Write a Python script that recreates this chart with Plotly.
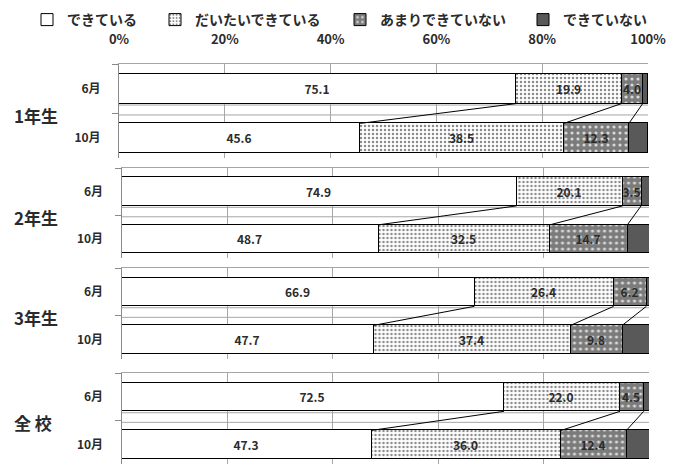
import plotly.graph_objects as go

# ---------------- data ----------------
groups = ["1年生", "2年生", "3年生", "全 校"]
months = ["6月", "10月"]
series_names = ["できている", "だいたいできている", "あまりできていない", "できていない"]
# each entry: [6月, 10月]
dekiteiru = [[75.1, 45.6], [74.9, 48.7], [66.9, 47.7], [72.5, 47.3]]
daitai = [[19.9, 38.5], [20.1, 32.5], [26.4, 37.4], [22.0, 36.0]]
amari = [[4.0, 12.3], [3.5, 14.7], [6.2, 9.8], [4.5, 12.4]]
dekinai = [[1.0, 3.6], [1.5, 4.1], [0.5, 5.1], [1.0, 4.3]]
x_ticks = [0, 20, 40, 60, 80, 100]
series_values = [dekiteiru, daitai, amari, dekinai]
show_label = [True, True, True, False]

# ---------------- style ----------------
W, H = 681, 464
FONT = "Noto Sans CJK JP"
TXT = "#2b2b2b"
GRID = "#a6a6a6"
AXIS = "#8a8a8a"
BAR_W = 0.6
YPOS = [1, 0]  # 6月 on top, 10月 below

patterns = [
    dict(color="#ffffff", pattern=None),
    dict(color="#ffffff", pattern=dict(shape=".", fgcolor="#8c8c8c", bgcolor="#ffffff",
                                       size=4, solidity=0.3, fillmode="replace")),
    dict(color="#7b7b7b", pattern=dict(shape=".", fgcolor="#d8d8d8", bgcolor="#7b7b7b",
                                       size=6, solidity=0.22, fillmode="replace")),
    dict(color="#595959", pattern=None),
]

# panel pixel extents (top, bottom) and x extents (left, right)
panel_px = [(64, 158), (168, 258), (268, 359), (373, 464)]
panel_x = [(119, 648), (121.5, 649), (121.5, 649), (121.5, 649)]

fig = go.Figure()

for p in range(4):
    xa = "x" if p == 0 else f"x{p+1}"
    ya = "y" if p == 0 else f"y{p+1}"
    for s in range(4):
        vals = [series_values[s][p][0], series_values[s][p][1]]
        marker = dict(color=patterns[s]["color"], line=dict(color="#000000", width=1))
        if patterns[s]["pattern"] is not None:
            marker["pattern"] = patterns[s]["pattern"]
        fig.add_trace(go.Bar(
            x=vals, y=YPOS, orientation="h", width=BAR_W,
            name=series_names[s], marker=marker,
            xaxis=xa, yaxis=ya,
            text=[f"{v:.1f}" for v in vals] if show_label[s] else None,
            textposition="inside" if show_label[s] else "none",
            insidetextanchor="middle", textangle=0, constraintext="none",
            textfont=dict(family=FONT, size=12, color=TXT, weight="bold"),
            showlegend=(p == 0),
            legend="legend" if s == 0 else f"legend{s+1}",
            hoverinfo="skip",
        ))
    # series lines between segment boundaries
    cum6 = 0.0
    cum10 = 0.0
    for s in range(3):
        cum6 += series_values[s][p][0]
        cum10 += series_values[s][p][1]
        fig.add_trace(go.Scatter(
            x=[cum6, cum10], y=[YPOS[0] - BAR_W / 2, YPOS[1] + BAR_W / 2],
            mode="lines", line=dict(color="#000000", width=1),
            xaxis=xa, yaxis=ya, showlegend=False, hoverinfo="skip",
        ))

layout = dict(
    width=W, height=H, margin=dict(l=0, r=0, t=0, b=0, autoexpand=False),
    paper_bgcolor="white", plot_bgcolor="white",
    barmode="stack", bargap=0,
    uniformtext=dict(mode="show", minsize=12),
    font=dict(family=FONT, color=TXT),
    showlegend=True,
)

shapes = []
annotations = []
divider_levels = [0.67, 0.47]
for p in range(4):
    top, bot = panel_px[p]
    xl, xr = panel_x[p]
    xk = "xaxis" if p == 0 else f"xaxis{p+1}"
    yk = "yaxis" if p == 0 else f"yaxis{p+1}"
    ya = "y" if p == 0 else f"y{p+1}"
    xa = "x" if p == 0 else f"x{p+1}"
    layout[xk] = dict(
        domain=[xl / W, xr / W], anchor=ya, side="top", range=[0, 100],
        tickvals=x_ticks, ticktext=[f"{t}%" for t in x_ticks],
        showticklabels=(p == 0), ticks="", ticklabelstandoff=14,
        tickfont=dict(family=FONT, size=13, color=TXT, weight="bold"),
        showgrid=True, gridcolor=GRID, gridwidth=1,
        showline=True, linecolor=GRID, linewidth=1, zeroline=False,
        fixedrange=True, automargin=False,
    )
    layout[yk] = dict(
        domain=[1 - bot / H, 1 - top / H], anchor=xa, range=[-0.4, 1.5],
        tickvals=YPOS, ticktext=months, ticks="", ticklabelstandoff=15,
        tickfont=dict(family=FONT, size=12, color=TXT, weight="bold"),
        minor=dict(tickmode="linear", tick0=0.5, dtick=1, ticks="outside",
                   ticklen=6, tickcolor=AXIS, tickwidth=1, showgrid=False),
        showgrid=False, showline=True, linecolor=AXIS, linewidth=1, zeroline=False,
        fixedrange=True, automargin=False,
    )
    for lv in divider_levels:
        shapes.append(dict(type="line", xref=xa, yref=ya, x0=0, x1=100, y0=lv, y1=lv,
                           line=dict(color=GRID, width=1), layer="below"))
    annotations.append(dict(
        text=groups[p], xref="paper", yref=ya, x=12 / W, y=0.5, xanchor="left",
        yanchor="middle", yshift=-2, showarrow=False,
        font=dict(family=FONT, size=17, color=TXT, weight="bold"),
    ))

legend_x = [27, 155, 340, 523]
for s in range(4):
    lk = "legend" if s == 0 else f"legend{s+1}"
    layout[lk] = dict(
        x=legend_x[s] / W, y=1 - 20 / H, xanchor="left", yanchor="middle",
        xref="container", yref="container",
        orientation="h", bgcolor="rgba(0,0,0,0)", borderwidth=0,
        font=dict(family=FONT, size=14, color=TXT, weight="bold"),
        itemwidth=30,
    )

layout["shapes"] = shapes
layout["annotations"] = annotations
fig.update_layout(**layout)

fig.write_html("out.html")
